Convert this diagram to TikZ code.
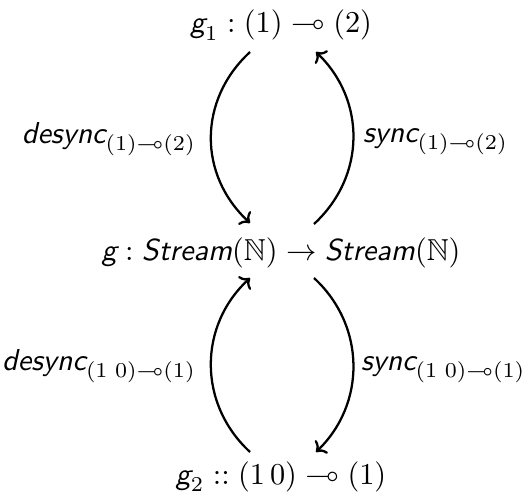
\documentclass[tikz,border=0pt]{standalone}
\usepackage{amsmath,amssymb}
\usetikzlibrary{arrows.meta}
\newcommand{\vs}[1]{\text{\normalfont\sffamily\itshape #1}}
\tikzset{
  lbl/.style={inner sep=0pt, outer sep=0pt},
  arc/.style={line width=0.75pt, -{To[length=2.8pt,width=6pt]}},
}
\begin{document}
\begin{tikzpicture}[x=0.33pt, y=-0.33pt]
\useasboundingbox (0,0) rectangle (526,495);
\node[lbl, anchor=base] (t) at (281,33) {$\vs{g}_1 : (1) \multimap (2)$};
\node[lbl, anchor=base] (m) at (281,260) {$\vs{g} : \vs{Stream}(\mathbb{N}) \rightarrow \vs{Stream}(\mathbb{N})$};
\node[lbl, anchor=base] (b) at (281,484) {$\vs{g}_2 :: (1\,0) \multimap (1)$};

\node[lbl, anchor=base east] (l1) at (196,143) {$\vs{desync}_{(1)\multimap(2)}$};
\node[lbl, anchor=base west] (l2) at (363,142) {$\vs{sync}_{(1)\multimap(2)}$};
\node[lbl, anchor=base east] (l3) at (196,370) {$\vs{desync}_{(1\hspace{2.5pt}0)\multimap(1)}$};
\node[lbl, anchor=base west] (l4) at (361,370) {$\vs{sync}_{(1\hspace{2.5pt}0)\multimap(1)}$};

\draw[arc] ([shift={(-31,19)}]t.base) .. controls +(-52,48) and +(-52,-48) .. ([shift={(-31,-37)}]m.base);
\draw[arc] ([shift={(33,-36)}]m.base) .. controls +(52,-48) and +(50,48) .. ([shift={(35,19)}]t.base);
\draw[arc] ([shift={(-31,-32)}]b.base) .. controls +(-52,-48) and +(-52,48) .. ([shift={(-31,18)}]m.base);
\draw[arc] ([shift={(33,18)}]m.base) .. controls +(52,48) and +(50,-48) .. ([shift={(35,-32)}]b.base);
\end{tikzpicture}
\end{document}
